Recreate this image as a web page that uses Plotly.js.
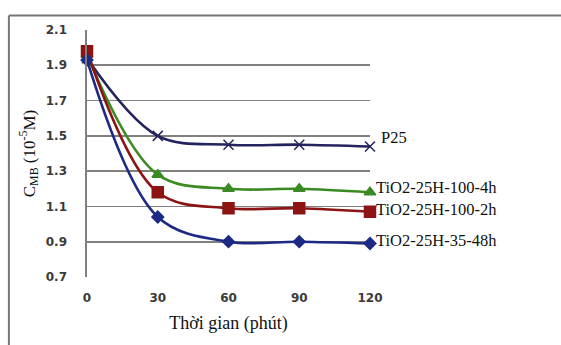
<!DOCTYPE html>
<html><head><meta charset="utf-8">
<script src="https://cdn.plot.ly/plotly-3.0.1.min.js"></script>
<style>html,body{margin:0;padding:0;background:#fff}#c{width:561px;height:345px}</style>
</head><body><div id="c"></div>
<script>
const times = [0, 30, 60, 90, 120];
const seriesNames = ["P25", "TiO2-25H-100-4h", "TiO2-25H-100-2h", "TiO2-25H-35-48h"];
const p25 = [1.94, 1.50, 1.45, 1.45, 1.44];
const h4 = [1.96, 1.28, 1.20, 1.20, 1.18];
const h2 = [1.98, 1.18, 1.09, 1.09, 1.07];
const h48 = [1.93, 1.04, 0.90, 0.90, 0.89];
const yTicks = [0.7, 0.9, 1.1, 1.3, 1.5, 1.7, 1.9, 2.1];
const xTicks = [0, 30, 60, 90, 120];

const values = [p25, h4, h2, h48];
const colors = ["#23235e", "#3b8a24", "#8c1414", "#1c2a85"];
const symbols = ["x-thin-open", "triangle-up", "square", "diamond"];
const msizes = [10, 10, 11, 9];
const yshifts = [9, 5, 2, 3];

const traces = values.map((v, i) => ({
  x: times, y: v, type: "scatter", mode: "lines+markers", name: seriesNames[i],
  line: {color: colors[i], width: 2.6, shape: "spline", smoothing: 1},
  marker: {symbol: symbols[i], size: msizes[i], color: colors[i], line: {color: colors[i], width: 1.5}},
  cliponaxis: false
}));

const annotations = values.map((v, i) => ({
  x: 120, y: v[v.length - 1], xref: "x", yref: "y", text: seriesNames[i],
  showarrow: false, xanchor: "left", yanchor: "middle", xshift: i === 0 ? 9 : 4, yshift: yshifts[i],
  font: {family: "Liberation Serif", size: 16.5, color: "#111"}
}));

const layout = {
  width: 561, height: 345,
  margin: {l: 87, r: 191, t: 30, b: 68},
  paper_bgcolor: "#fff", plot_bgcolor: "#fff",
  showlegend: false,
  xaxis: {
    range: [0, 120], tickvals: xTicks, ticktext: xTicks.map(String),
    showgrid: false, zeroline: false, showline: false, ticks: "",
    tickfont: {family: "DejaVu Sans", size: 12, color: "#3a3a3a", weight: "bold"},
    ticklabelstandoff: 12,
    title: {text: "Thời gian (phút)", font: {family: "Liberation Serif", size: 18, color: "#111"}, standoff: 12}
  },
  yaxis: {
    range: [0.7, 2.1], tickvals: yTicks, ticktext: yTicks.map(t => t.toFixed(1)),
    showgrid: true, gridcolor: "#808080", gridwidth: 1.6, zeroline: false,
    showline: true, linecolor: "#808080", linewidth: 1.6, ticks: "",
    tickfont: {family: "DejaVu Sans", size: 12, color: "#3a3a3a", weight: "bold"},
    ticklabelstandoff: 16,
    title: {text: "C<sub>MB</sub> (10<sup>-5</sup>M)", font: {family: "Liberation Serif", size: 17, color: "#111"}, standoff: 6}
  },
  shapes: [
    {type: "line", xref: "paper", yref: "paper", x0: -0.276, x1: 1.7, y0: 1.0588, y1: 1.0588, line: {color: "#777", width: 2}},
    {type: "line", xref: "paper", yref: "paper", x0: -0.276, x1: -0.276, y0: 1.0588, y1: -0.3, line: {color: "#777", width: 2}}
  ],
  annotations: annotations
};

Plotly.newPlot("c", traces, layout, {displayModeBar: false, staticPlot: true});
</script></body></html>
